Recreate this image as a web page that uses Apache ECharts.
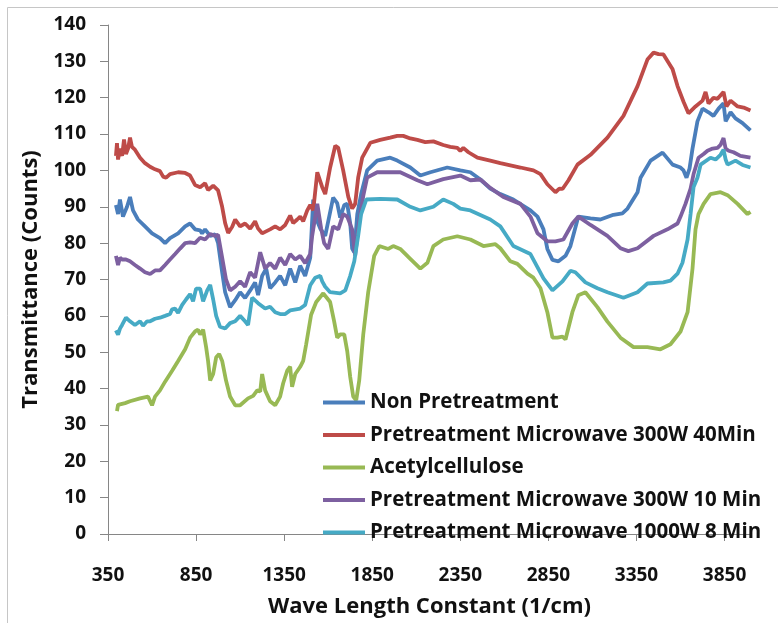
<!DOCTYPE html>
<html><head><meta charset="utf-8">
<script src="https://cdn.jsdelivr.net/npm/echarts@6/dist/echarts.min.js"></script>
<style>html,body{margin:0;padding:0;background:#fff}#c{width:778px;height:623px}</style>
</head><body><div id="c"></div>
<script>
const seriesNames = ["Non Pretreatment","Pretreatment Microwave 300W 40Min","Acetylcellulose","Pretreatment Microwave 300W 10 Min","Pretreatment Microwave 1000W 8 Min"];
const colors = ["#4A7EBB","#BE4B48","#98B954","#7D60A0","#46AAC5"];
const xTicks = [350,850,1350,1850,2350,2850,3350,3850];
const yTicks = [0,10,20,30,40,50,60,70,80,90,100,110,120,130,140];

const nonPreX = [395,407,418,435,458,475,492,520,560,600,645,674,702,748,788,816,844,873,884,901,930,958,975,998,1015,1043,1072,1100,1128,1157,1185,1202,1225,1248,1270,1299,1327,1356,1384,1413,1441,1469,1498,1515,1538,1555,1583,1628,1651,1668,1691,1708,1725,1736,1748,1765,1787,1821,1878,1952,1992,2066,2123,2180,2276,2350,2407,2464,2520,2577,2651,2748,2788,2822,2844,2873,2907,2947,2975,3020,3089,3145,3219,3270,3299,3356,3373,3430,3498,3555,3600,3617,3634,3651,3668,3696,3725,3759,3787,3816,3844,3856,3884,3912,3952,3997];
const nonPreY = [90.5,88,92,87.3,90,92.7,89,86.5,84.6,82.7,81.4,80,81.4,82.7,84.6,85.4,83.8,83.5,82.7,83.8,82,82.4,80,72,66.5,62.4,64.3,66.5,64.9,67,69.2,65.7,71,73,67.6,69.2,71,68.4,73,69.2,73.8,71,76,92,86,84,82,92.5,91,87,90.5,90.8,85.4,78.5,77.5,88,93.5,100,102.7,103.5,102.7,100.8,98.6,99.5,100.8,100,99.5,97.5,95,93.5,92,89,87.3,83.8,78.4,75.4,75,76.5,79.2,87.3,86.8,86.5,87.8,88.2,89.5,94,98,102.7,104.9,101.6,100.8,100,98,100.5,106,113.5,117,116,115,117,118.5,113.5,116,114.3,113,111];

const mw40X = [395,401,407,412,418,430,441,452,464,475,486,503,532,560,589,617,645,663,680,702,748,788,816,844,873,901,918,947,975,998,1015,1032,1055,1072,1100,1128,1157,1185,1202,1225,1270,1299,1327,1356,1384,1401,1424,1441,1458,1481,1498,1515,1538,1566,1583,1611,1640,1657,1685,1714,1736,1753,1770,1793,1821,1839,1895,1952,1992,2026,2066,2106,2151,2197,2253,2293,2333,2350,2367,2396,2447,2520,2577,2691,2765,2805,2844,2890,2912,2930,2964,3015,3089,3185,3276,3356,3412,3447,3475,3503,3555,3583,3617,3645,3685,3725,3742,3759,3787,3810,3844,3861,3884,3924,3958,3997];
const mw40Y = [104,107.5,103,102.5,106,104,108.5,104.5,106,109,106.5,105.7,103.5,102,101,100.3,99.8,98.3,98,99,99.5,99.3,98.6,96,95.4,96.5,94.6,95.8,94.5,90,85.5,82.8,84.5,86.5,84.6,85.4,84,86,84,82.7,83.8,84.6,83.8,85,87.6,85.5,86.5,87.3,86,89,90.5,89,99.5,95.4,93.5,100.8,106.8,106.2,100,92.7,89.5,90.8,98,103.5,106,107.6,108.4,109,109.5,109.5,108.8,108.4,107.8,108,107,106.5,106.2,105.4,106.2,105,103.5,102.7,102,100.8,100,99,96.2,94,95,94.9,97.3,101.6,104.3,109,115,123.2,130.5,132.4,132,131.9,127.8,123.2,118.9,115.7,117.6,119.2,121.6,118.4,120,119.7,121.6,117.6,119.2,117.6,117.3,116.5];

const acetX = [401,407,418,447,475,532,577,600,617,645,674,714,748,788,816,844,861,873,890,907,918,930,947,964,981,998,1020,1043,1072,1100,1145,1174,1197,1214,1225,1242,1270,1299,1327,1344,1367,1384,1395,1413,1441,1458,1475,1503,1532,1572,1583,1611,1634,1651,1668,1691,1708,1725,1742,1759,1776,1799,1827,1861,1890,1941,1969,2009,2066,2123,2163,2197,2253,2333,2407,2481,2549,2577,2634,2674,2731,2765,2805,2844,2873,2901,2930,2947,2986,3020,3060,3128,3185,3259,3333,3412,3486,3543,3600,3640,3668,3685,3702,3731,3770,3827,3867,3924,3980,3997];
const acetY = [33.8,35.5,35,36,36.5,37.3,37.8,35.4,37.8,39.5,41.9,44.9,47.6,50.8,54,55.7,56.2,54.9,56.2,51.4,47.6,42.2,44,48.6,49.5,47.6,42.2,37.8,35.4,35.4,37.3,38,39.5,39.2,44,39.5,36.5,35.4,37.8,41.4,44.9,46,40.5,44,46,47.6,52.2,60.3,63.8,66.2,66.2,63.8,58.4,54,54.9,54.9,50.3,43.2,37.8,36.8,42.2,54.9,66.5,76.5,79.2,78.4,79.2,78.4,75.7,73,74.6,79.2,81,81.9,81,79.2,79.7,78.6,75,74.3,71.6,70.5,67.6,61,54,54,54.3,53.5,61,65.7,66.5,62.4,58.4,54,51.4,51.4,50.8,52.2,55.7,61,73,83.8,88,90.8,93.5,94,93.2,90.8,88,88.6];

const mw10X = [395,407,418,430,452,475,503,532,560,589,617,645,674,702,731,759,788,816,844,873,901,930,958,975,998,1020,1043,1072,1100,1128,1157,1185,1214,1242,1270,1299,1327,1356,1384,1413,1441,1469,1498,1509,1538,1560,1577,1600,1628,1657,1685,1708,1736,1753,1770,1799,1821,1878,2009,2106,2163,2253,2350,2407,2464,2520,2594,2691,2748,2788,2844,2890,2935,2986,3020,3089,3185,3259,3304,3356,3447,3526,3583,3600,3628,3657,3674,3702,3731,3753,3782,3810,3827,3844,3856,3873,3901,3940,3997];
const mw10Y = [76.5,74,76,75.5,75.5,75,74,73,72,71.5,72.5,72.5,74,75.5,77,78.5,80,80.2,80,81.5,81,82.5,82,82.3,76,70,67,68,69.5,68,72,70.5,77.5,73,74.5,73,76,74,77,75.5,76.5,74.5,77,82,90.8,84,80,78.4,84.6,83.8,88,87.3,83.8,76.5,84,93,98,99.5,99.5,97.3,96.2,97.6,98.6,97.3,97.5,95.2,92.7,90.8,87.3,82.7,80.5,80.5,81,85.4,87.3,85,82,78.6,77.8,78.6,82,83.8,85.4,87.3,90.8,95,99,103.5,104.5,105.4,106,106.2,107,108.9,106,105.4,105,104,103.5];

const mw1000X = [395,407,418,430,452,475,503,532,549,572,589,617,645,674,702,714,731,748,771,793,816,833,850,873,890,913,930,947,964,986,1015,1043,1072,1100,1128,1145,1168,1202,1242,1270,1299,1327,1356,1384,1441,1469,1498,1526,1555,1566,1583,1611,1668,1697,1725,1748,1770,1787,1816,1895,1992,2066,2123,2197,2253,2310,2350,2407,2520,2577,2651,2748,2822,2873,2930,2975,3003,3060,3128,3185,3276,3356,3412,3503,3543,3583,3611,3640,3657,3674,3696,3714,3770,3799,3827,3844,3856,3867,3912,3952,3997];
const mw1000Y = [56,54.8,56.5,57.5,59.5,58.5,57.5,58.5,57.3,58.5,58.5,59.2,59.5,60,60.5,61.8,62,60.8,63,64.5,66,64,67.5,67.5,64,67,68.5,64.5,60,57,56.5,58,58.5,60,58.5,57.5,65,63.5,62,62.5,61,60.5,60.5,61.5,62,63,68.4,70.5,71,69.5,68,66.5,66.2,67,71,75,82,88,92,92.2,92,90,89,90,92,90.8,89.5,89,86.5,84.6,79.2,77,70.3,67,69.5,72.4,72,69.2,67.6,66.5,65,66.5,68.9,69.2,69.7,71.6,74.6,81,88,95.4,98,101.6,103.5,103,104.3,105.7,103,101.6,102.7,101.5,100.8];

const xs = [nonPreX, mw40X, acetX, mw10X, mw1000X];
const ys = [nonPreY, mw40Y, acetY, mw10Y, mw1000Y];
const zip = (a, b) => a.map((v, i) => [v, b[i]]);

const FONT = "'Open Sans', 'Liberation Sans', sans-serif";
const chart = echarts.init(document.getElementById('c'), null, {renderer: 'canvas'});
chart.setOption({
  animation: false,
  backgroundColor: '#fff',
  graphic: [{type: 'rect', shape: {x: 7.5, y: 7.5, width: 800, height: 700}, style: {fill: 'none', stroke: '#C6C6C6', lineWidth: 1}, silent: true, z: -1}],
  grid: {left: 108, top: 25, right: 27, bottom: 80},
  legend: {
    orient: 'vertical', left: 323, top: 392, padding: 0,
    icon: 'rect', itemWidth: 42, itemHeight: 4, itemGap: 11.5,
    textStyle: {fontFamily: FONT, fontWeight: 'bold', fontSize: 20.5, color: '#111', lineHeight: 20},
    data: seriesNames
  },
  xAxis: {
    type: 'value', min: 350, max: 4000,
    name: 'Wave Length Constant (1/cm)', nameLocation: 'middle', nameGap: 62,
    nameTextStyle: {fontFamily: FONT, fontWeight: 'bold', fontSize: 22, color: '#111'},
    axisLine: {show: true, lineStyle: {color: '#868686', width: 1}},
    axisTick: {show: true, length: 7, lineStyle: {color: '#868686'}, customValues: xTicks},
    axisLabel: {fontFamily: FONT, fontWeight: 'bold', fontSize: 19, color: '#111', margin: 32, customValues: xTicks, formatter: v => String(v)},
    splitLine: {show: false}
  },
  yAxis: {
    type: 'value', min: 0, max: 140, interval: 10,
    name: 'Transmittance (Counts)', nameLocation: 'middle', nameGap: 66,
    nameTextStyle: {fontFamily: FONT, fontWeight: 'bold', fontSize: 22, color: '#111'},
    axisLine: {show: true, lineStyle: {color: '#868686', width: 1}},
    axisTick: {show: true, length: 8, lineStyle: {color: '#868686'}},
    axisLabel: {fontFamily: FONT, fontWeight: 'bold', fontSize: 19, color: '#111', margin: 22, formatter: v => String(v)},
    splitLine: {show: false}
  },
  series: seriesNames.map((n, i) => ({
    name: n, type: 'line', data: zip(xs[i], ys[i]),
    showSymbol: false, symbol: 'none',
    lineStyle: {color: colors[i], width: 3.8}, itemStyle: {color: colors[i]}
  }))
});
</script></body></html>
